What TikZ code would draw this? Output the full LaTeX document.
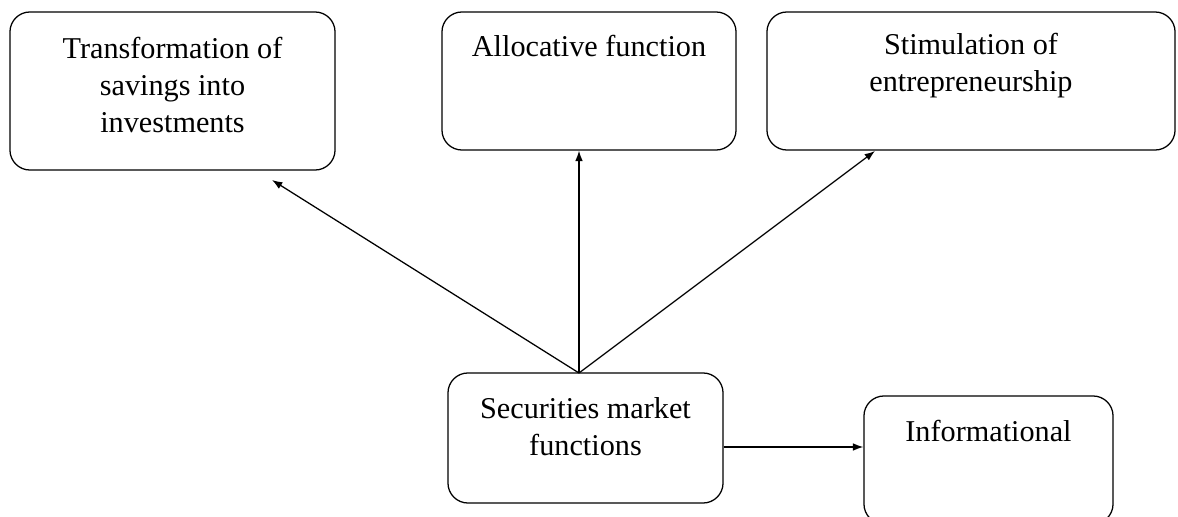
\documentclass[tikz,border=0pt]{standalone}
\usepackage{fontspec}
\setmainfont{Liberation Serif}
\usetikzlibrary{positioning,calc,arrows.meta}

\begin{document}
\begin{tikzpicture}[x=0.025cm,y=-0.025cm,
    box/.style={draw,line width=0.9pt,rounded corners=0.5cm,inner sep=0pt},
    txt/.style={anchor=north,inner sep=0pt,align=center,font=\fontsize{21.5}{26.2}\selectfont},
    arr/.style={-{Latex[length=2.6mm,width=1.9mm]},line width=0.9pt}]
    \useasboundingbox (0,0) rectangle (1178,517);
    \clip (0,0) rectangle (1178,517);
    % Boxes
    \node[box,minimum width=8.125cm,minimum height=3.95cm] (trans) at (172.5,91) {};
    \node[box,minimum width=7.35cm,minimum height=3.45cm] (alloc) at (589,81) {};
    \node[box,minimum width=10.2cm,minimum height=3.45cm] (stim) at (971,81) {};
    \node[box,minimum width=6.875cm,minimum height=3.25cm] (secm) at (585.5,438) {};
    \node[box,minimum width=6.225cm,minimum height=3.2cm] (info) at (988.5,460) {};
    % Texts
    \node[txt] (transT) at (172.5,37) {Transformation of\\savings into\\investments};
    \node[txt] (allocT) at (589,35) {Allocative function};
    \node[txt] (stimT) at (971,33) {Stimulation of\\entrepreneurship};
    \node[txt] (secmT) at (585.5,397) {Securities market\\functions};
    \node[txt] (infoT) at (988.5,420) {Informational};
    % Arrows
    \coordinate (fork) at (579,373);
    \coordinate (transIn) at (272,180);
    \coordinate (stimIn) at (875,151);
    \draw[arr] (fork) -- (transIn);
    \draw[arr] (fork) -- (fork |- alloc.south);
    \draw[arr] (fork) -- (stimIn);
    \path (secm.east) ++(0,9) coordinate (secmOut);
    \draw[arr] (secmOut) -- (secmOut -| info.west);
\end{tikzpicture}
\end{document}
